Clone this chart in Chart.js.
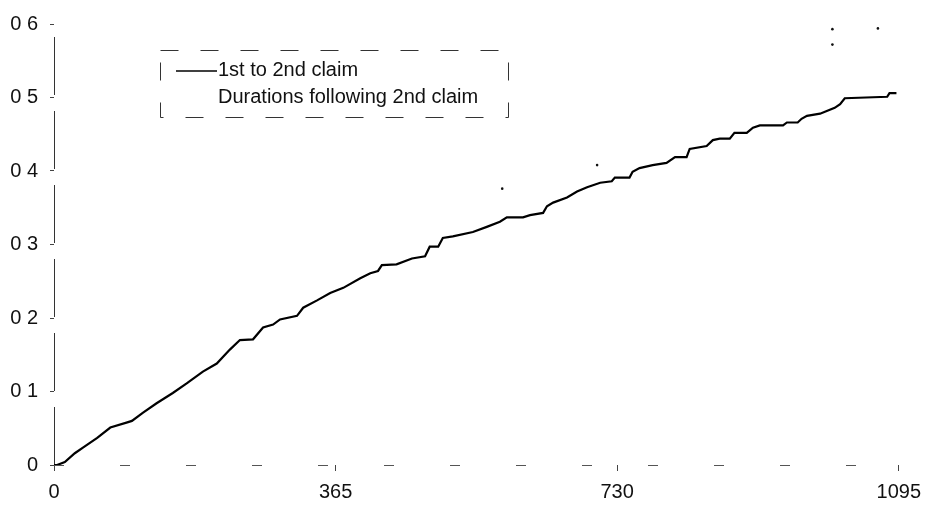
<!DOCTYPE html>
<html>
<head>
<meta charset="utf-8">
<script src="https://cdn.jsdelivr.net/npm/chart.js@4/dist/chart.umd.min.js"></script>
<style>
	html, body { margin: 0; padding: 0; background: #fff; }
	#wrap { width: 930px; height: 509px; }
</style>
</head>
<body>
<div id="wrap"><canvas id="cumChart" width="930" height="509"></canvas></div>
<script>
const seriesNames = ['1st to 2nd claim', 'Durations following 2nd claim']

// cumulative proportion by days since the 1st claim
const firstDays = [0, 4, 14, 27, 38, 56, 73, 95, 101, 115, 133, 154, 172, 193, 211, 228, 241, 258,
	271, 284, 293, 315, 323, 341, 358, 375, 397, 410, 420, 425, 444, 464, 481, 487, 498, 504, 517,
	543, 561, 578, 587, 608, 617, 634, 639, 647, 665, 678, 691, 708, 723, 727, 746, 750, 759, 776,
	794, 805, 820, 824, 846, 854, 863, 876, 882, 898, 906, 915, 945, 950, 964, 969, 976, 993, 1012,
	1019, 1025, 1080, 1083, 1092]
const firstValues = [0, 0, 0.004, 0.016, 0.024, 0.037, 0.051, 0.058, 0.060, 0.071, 0.084, 0.098,
	0.111, 0.127, 0.138, 0.157, 0.170, 0.171, 0.187, 0.191, 0.198, 0.203, 0.214, 0.224, 0.234, 0.241,
	0.254, 0.261, 0.264, 0.272, 0.273, 0.281, 0.284, 0.297, 0.297, 0.309, 0.311, 0.317, 0.324, 0.331,
	0.337, 0.337, 0.340, 0.343, 0.352, 0.357, 0.364, 0.372, 0.378, 0.384, 0.386, 0.391, 0.391, 0.399,
	0.404, 0.408, 0.411, 0.419, 0.419, 0.430, 0.434, 0.442, 0.444, 0.444, 0.452, 0.452, 0.459, 0.462,
	0.462, 0.466, 0.466, 0.471, 0.475, 0.478, 0.486, 0.491, 0.499, 0.501, 0.506, 0.506]

// the later durations only survive as a few dots
const laterDays = [581, 704, 1009, 1009, 1068]
const laterValues = [0.376, 0.408, 0.572, 0.593, 0.594]

const xTicks = [0, 365, 730, 1095]
const xTickLabels = ['0', '365', '730', '1095']
const yTickLabels = ['0', '0 1', '0 2', '0 3', '0 4', '0 5', '0 6']

const fontFamily = '"Liberation Sans", Arial, sans-serif'

const toPoints = (xs, ys) => xs.map((x, i) => ({ x: x, y: ys[i] }))

// broken axis lines, drawn by hand so the gaps can be placed
const brokenAxes = {
	id: 'brokenAxes',
	beforeDatasetsDraw(chart) {
		const { ctx, chartArea: a } = chart
		ctx.save()
		ctx.strokeStyle = '#333'
		ctx.lineWidth = 1
		ctx.setLineDash([58, 16])
		ctx.beginPath()
		ctx.moveTo(a.left + 0.5, a.bottom)
		ctx.lineTo(a.left + 0.5, a.top)
		ctx.stroke()
		ctx.strokeStyle = '#555'
		ctx.setLineDash([10, 56])
		ctx.beginPath()
		ctx.moveTo(a.left, a.bottom + 0.5)
		ctx.lineTo(a.right, a.bottom + 0.5)
		ctx.stroke()
		ctx.restore()
	}
}

// boxed legend sitting inside the plot
const boxLegend = {
	id: 'boxLegend',
	afterDraw(chart) {
		const ctx = chart.ctx
		ctx.save()
		ctx.strokeStyle = '#333'
		ctx.lineWidth = 1
		ctx.setLineDash([18, 22])
		ctx.strokeRect(160.5, 50.5, 348, 67)
		ctx.setLineDash([])
		ctx.strokeStyle = '#000'
		ctx.lineWidth = 1.5
		ctx.beginPath()
		ctx.moveTo(176, 71)
		ctx.lineTo(217, 71)
		ctx.stroke()
		ctx.fillStyle = '#111'
		ctx.font = '20px ' + fontFamily
		ctx.textBaseline = 'middle'
		ctx.fillText(chart.data.datasets[0].label, 218, 70)
		ctx.fillText(chart.data.datasets[1].label, 218, 97)
		ctx.restore()
	}
}

let canvas = document.getElementById('cumChart')
let ctx = canvas.getContext('2d')
let chart = new Chart(ctx, {
	type: 'line',
	data: {
		datasets: [
			{
				label: seriesNames[0],
				data: toPoints(firstDays, firstValues),
				borderColor: '#000',
				borderWidth: 2.2,
				pointRadius: 0,
				tension: 0,
				fill: false,
			},
			{
				label: seriesNames[1],
				data: toPoints(laterDays, laterValues),
				showLine: false,
				pointRadius: 1.3,
				pointBackgroundColor: '#111',
				pointBorderWidth: 0,
			},
		]
	},
	plugins: [brokenAxes, boxLegend],
	options: {
		responsive: false,
		animation: false,
		layout: {
			padding: { top: 17, right: 31, left: 0, bottom: 0 }
		},
		scales: {
			x: {
				type: 'linear',
				min: 0,
				max: 1095,
				afterBuildTicks: (scale) => {
					scale.ticks = xTicks.map(v => ({ value: v }))
				},
				afterFit: (scale) => { scale.height = 44 },
				grid: {
					drawOnChartArea: false,
					tickLength: 6,
					color: '#444',
				},
				border: { display: false },
				ticks: {
					padding: 9,
					color: '#111',
					font: { family: fontFamily, size: 20 },
					callback: (value) => xTickLabels[xTicks.indexOf(value)],
				}
			},
			y: {
				min: 0,
				max: 0.6,
				afterBuildTicks: (scale) => {
					scale.ticks = yTickLabels.map((t, i) => ({ value: i / 10 }))
				},
				afterFit: (scale) => { scale.width = 54 },
				grid: {
					drawOnChartArea: false,
					tickLength: 4,
					color: '#444',
				},
				border: { display: false },
				ticks: {
					padding: 12,
					color: '#111',
					font: { family: fontFamily, size: 20 },
					callback: (value) => yTickLabels[Math.round(value * 10)],
				}
			}
		},
		plugins: {
			legend: { display: false },
			tooltip: { enabled: false },
		}
	}
})
canvas = null
</script>
</body>
</html>
